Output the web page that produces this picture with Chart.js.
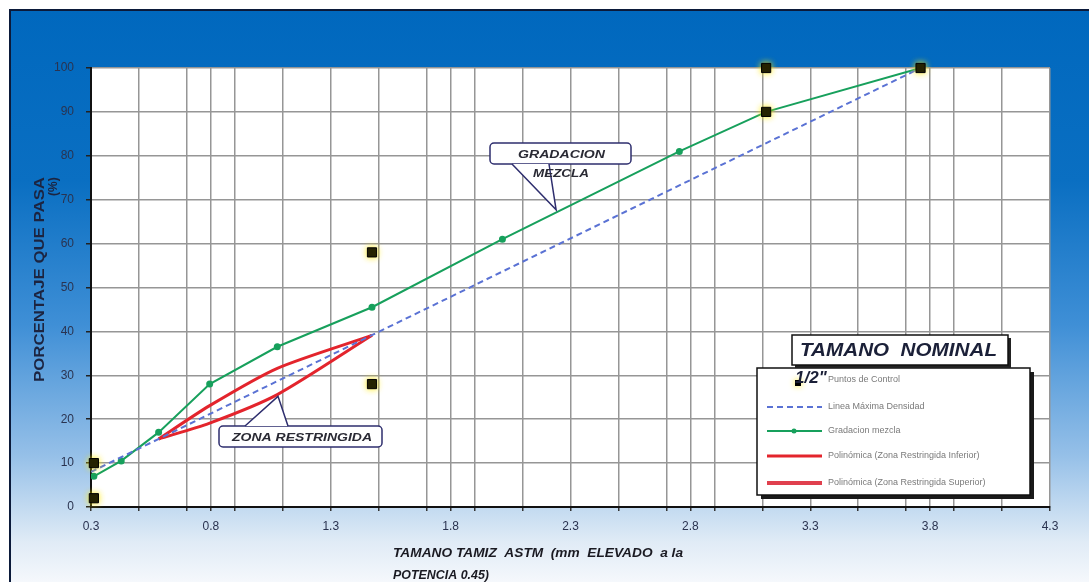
<!DOCTYPE html>
<html>
<head>
<meta charset="utf-8">
<script src="https://cdn.jsdelivr.net/npm/chart.js@4.4.1/dist/chart.umd.min.js"></script>
<style>
  html, body { margin: 0; padding: 0; background: #fff; overflow: hidden; }
  #wrap { position: relative; width: 1089px; height: 582px; }
</style>
</head>
<body>
<div id="wrap"><canvas id="c" width="1089" height="582"></canvas></div>
<script>
// Sieve openings raised to the 0.45 power (0.075, 0.15, 0.3, 0.6, 1.18, 2.36, 4.75, 9.5, 12.5, 19 mm)
const sieveX = [0.312, 0.426, 0.582, 0.795, 1.077, 1.472, 2.016, 2.754, 3.116, 3.76];
const gradacionMezcla = [7, 10.5, 17, 28, 36.5, 45.5, 61, 81, 90, 100];

// Control points (lower / upper limits)
const controlX = [0.312, 0.312, 1.472, 1.472, 3.116, 3.116, 3.76];
const controlY = [2, 10, 58, 28, 100, 90, 100];

// Maximum density line
const maxDensX = [0.3, 3.76];
const maxDensY = [8, 100];

// Restricted zone
const zonaX = [0.582, 0.795, 1.077, 1.472];
const zonaInferior = [15.5, 19.1, 25.6, 39.1];
const zonaSuperior = [15.5, 23.1, 31.6, 39.1];

// Axis ticks and gridlines
const xTickLabels = ['0.3', '0.8', '1.3', '1.8', '2.3', '2.8', '3.3', '3.8', '4.3'];
const xGridValues = [0.3, 0.5, 0.7, 0.8, 0.9, 1.1, 1.3, 1.5, 1.7, 1.8, 1.9, 2.1, 2.3, 2.5, 2.7, 2.8, 2.9, 3.1, 3.3, 3.5, 3.7, 3.8, 3.9, 4.1, 4.3];
const yTickValues = [0, 10, 20, 30, 40, 50, 60, 70, 80, 90, 100];

const legendLabels = [
  'Puntos de Control',
  'Linea Máxima Densidad',
  'Gradacion mezcla',
  'Polinómica (Zona Restringida Inferior)',
  'Polinómica (Zona Restringida Superior)'
];

const GREEN = '#17a05c';
const RED = '#e3242c';
const BLUE = '#5a72d4';
const FONT = '"Liberation Sans", Arial, sans-serif';

const pts = (xs, ys) => xs.map((x, i) => ({ x: x, y: ys[i] }));

// Draw text squeezed/stretched horizontally to a given width
function fitText(ctx, text, x, y, width) {
  const w = ctx.measureText(text).width;
  ctx.save();
  ctx.translate(x, y);
  ctx.scale(width / w, 1);
  ctx.fillText(text, 0, 0);
  ctx.restore();
}

function drawControlMarker(ctx, x, y, s) {
  ctx.save();
  ctx.shadowColor = 'rgba(255,235,0,0.95)';
  ctx.shadowBlur = 6;
  ctx.fillStyle = '#000';
  ctx.fillRect(x - s / 2, y - s / 2, s, s);
  ctx.restore();
}

const decor = {
  id: 'decor',
  beforeDraw(chart) {
    const { ctx, chartArea: a, width, height } = chart;
    ctx.save();
    ctx.fillStyle = '#fff';
    ctx.fillRect(0, 0, width, height);
    const g = ctx.createLinearGradient(0, 10, 0, height);
    g.addColorStop(0, '#0068be');
    g.addColorStop(0.3, '#0a6fc2');
    g.addColorStop(0.55, '#3f8fd6');
    g.addColorStop(0.78, '#96c0e8');
    g.addColorStop(0.93, '#e0ebf6');
    g.addColorStop(1, '#f5f8fc');
    ctx.fillStyle = g;
    ctx.fillRect(10, 10, width - 10, height - 10);
    ctx.strokeStyle = '#0b1a3a';
    ctx.lineWidth = 2;
    ctx.beginPath();
    ctx.moveTo(10, height);
    ctx.lineTo(10, 10);
    ctx.lineTo(width, 10);
    ctx.stroke();
    ctx.fillStyle = '#fff';
    ctx.fillRect(a.left, a.top, a.right - a.left, a.bottom - a.top);
    ctx.restore();
  },
  beforeDatasetDraw(chart, args) {
    if (args.index === 0) {
      chart.ctx.save();
      chart.ctx.shadowColor = 'rgba(255,235,0,0.9)';
      chart.ctx.shadowBlur = 6;
    }
  },
  afterDatasetDraw(chart, args) {
    if (args.index === 0) chart.ctx.restore();
  },
  afterDraw(chart) {
    const ctx = chart.ctx;
    const xs = chart.scales.x, ys = chart.scales.y;
    ctx.save();

    // Axis titles
    ctx.fillStyle = '#1c2440';
    ctx.textBaseline = 'middle';
    ctx.textAlign = 'left';
    ctx.font = 'bold 14px ' + FONT;
    ctx.save();
    ctx.translate(40, 382);
    ctx.rotate(-Math.PI / 2);
    fitText(ctx, 'PORCENTAJE QUE PASA', 0, 0, 205);
    ctx.restore();
    ctx.save();
    ctx.translate(54, 196);
    ctx.rotate(-Math.PI / 2);
    ctx.font = 'bold 12px ' + FONT;
    ctx.fillText('(%)', 0, 0);
    ctx.restore();

    ctx.fillStyle = '#1a1a22';
    ctx.font = 'italic bold 13px ' + FONT;
    fitText(ctx, 'TAMANO TAMIZ  ASTM  (mm  ELEVADO  a la', 393, 553, 290);
    fitText(ctx, 'POTENCIA 0.45)', 393, 575, 96);

    // Callout: GRADACION MEZCLA
    const tip1x = xs.getPixelForValue(2.24), tip1y = ys.getPixelForValue(67.7);
    ctx.fillStyle = '#fff';
    ctx.strokeStyle = '#2e2e6e';
    ctx.lineWidth = 1.5;
    ctx.beginPath();
    ctx.roundRect(490, 143, 141, 21, 4);
    ctx.fill();
    ctx.stroke();
    ctx.beginPath();
    ctx.moveTo(512, 164);
    ctx.lineTo(tip1x, tip1y);
    ctx.lineTo(549, 164);
    ctx.closePath();
    ctx.fill();
    ctx.beginPath();
    ctx.moveTo(512, 164);
    ctx.lineTo(tip1x, tip1y);
    ctx.lineTo(549, 164);
    ctx.stroke();
    ctx.fillStyle = '#2a2a34';
    ctx.textAlign = 'left';
    ctx.font = 'italic bold 10px ' + FONT;
    fitText(ctx, 'GRADACION', 518, 155, 87);
    fitText(ctx, 'MEZCLA', 533, 174, 56);

    // Callout: ZONA RESTRINGIDA
    const tip2x = xs.getPixelForValue(1.08), tip2y = ys.getPixelForValue(25.2);
    ctx.fillStyle = '#fff';
    ctx.strokeStyle = '#2e2e6e';
    ctx.beginPath();
    ctx.roundRect(219, 426, 163, 21, 4);
    ctx.fill();
    ctx.stroke();
    ctx.beginPath();
    ctx.moveTo(245, 426);
    ctx.lineTo(tip2x, tip2y);
    ctx.lineTo(288, 426);
    ctx.closePath();
    ctx.fill();
    ctx.beginPath();
    ctx.moveTo(245, 426);
    ctx.lineTo(tip2x, tip2y);
    ctx.lineTo(288, 426);
    ctx.stroke();
    ctx.fillStyle = '#2a2a34';
    ctx.font = 'italic bold 11px ' + FONT;
    fitText(ctx, 'ZONA RESTRINGIDA', 232, 438, 140);

    // Legend box
    ctx.fillStyle = '#1a1a1a';
    ctx.fillRect(761, 372, 273, 127);
    ctx.fillStyle = '#fff';
    ctx.fillRect(757, 368, 273, 127);
    ctx.strokeStyle = '#111';
    ctx.lineWidth = 1.5;
    ctx.strokeRect(757, 368, 273, 127);

    const rowY = [380, 407, 431, 456, 483];
    ctx.font = '9px ' + FONT;
    ctx.fillStyle = '#7a7a7a';
    ctx.textAlign = 'left';
    legendLabels.forEach((t, i) => ctx.fillText(t, 828, rowY[i]));

    ctx.lineCap = 'butt';
    ctx.strokeStyle = BLUE;
    ctx.lineWidth = 2;
    ctx.setLineDash([6, 4]);
    ctx.beginPath(); ctx.moveTo(767, rowY[1]); ctx.lineTo(822, rowY[1]); ctx.stroke();
    ctx.setLineDash([]);
    ctx.strokeStyle = GREEN;
    ctx.beginPath(); ctx.moveTo(767, rowY[2]); ctx.lineTo(822, rowY[2]); ctx.stroke();
    ctx.fillStyle = GREEN;
    ctx.beginPath(); ctx.arc(794, rowY[2], 2.5, 0, Math.PI * 2); ctx.fill();
    ctx.strokeStyle = RED;
    ctx.lineWidth = 3;
    ctx.beginPath(); ctx.moveTo(767, rowY[3]); ctx.lineTo(822, rowY[3]); ctx.stroke();
    ctx.strokeStyle = '#e0404e';
    ctx.lineWidth = 4;
    ctx.beginPath(); ctx.moveTo(767, rowY[4]); ctx.lineTo(822, rowY[4]); ctx.stroke();
    drawControlMarker(ctx, 798, 383, 6);

    // Nominal size box
    ctx.fillStyle = '#222';
    ctx.fillRect(795, 338, 216, 30);
    ctx.fillStyle = '#fff';
    ctx.fillRect(792, 335, 216, 30);
    ctx.strokeStyle = '#111';
    ctx.lineWidth = 1.5;
    ctx.strokeRect(792, 335, 216, 30);
    ctx.fillStyle = '#1b2038';
    ctx.font = 'italic bold 19px ' + FONT;
    fitText(ctx, 'TAMANO  NOMINAL', 800, 351, 197);
    ctx.font = 'italic bold 17px ' + FONT;
    ctx.fillStyle = '#1b2038';
    ctx.fillText('1/2"', 795, 378);

    ctx.restore();
  }
};

new Chart(document.getElementById('c'), {
  type: 'scatter',
  data: {
    datasets: [
      {
        label: legendLabels[0],
        data: pts(controlX, controlY),
        showLine: false,
        pointStyle: 'rect',
        pointRadius: 6.5,
        pointBackgroundColor: '#000',
        pointBorderColor: '#000',
        pointBorderWidth: 1,
        clip: false
      },
      {
        label: legendLabels[1],
        data: pts(maxDensX, maxDensY),
        showLine: true,
        borderColor: BLUE,
        borderWidth: 2,
        borderDash: [6, 4],
        pointRadius: 0
      },
      {
        label: legendLabels[2],
        data: pts(sieveX, gradacionMezcla),
        showLine: true,
        borderColor: GREEN,
        borderWidth: 2,
        pointRadius: 2.5,
        pointBackgroundColor: GREEN,
        pointBorderColor: GREEN
      },
      {
        label: legendLabels[3],
        data: pts(zonaX, zonaInferior),
        showLine: true,
        borderColor: RED,
        borderWidth: 3,
        pointRadius: 0,
        tension: 0.25
      },
      {
        label: legendLabels[4],
        data: pts(zonaX, zonaSuperior),
        showLine: true,
        borderColor: RED,
        borderWidth: 3,
        pointRadius: 0,
        tension: 0.25
      }
    ]
  },
  options: {
    responsive: false,
    animation: false,
    events: [],
    layout: { padding: { left: 0, top: 68, right: 39, bottom: 35 } },
    plugins: {
      legend: { display: false },
      tooltip: { enabled: false }
    },
    scales: {
      x: {
        type: 'linear',
        min: 0.3,
        max: 4.3,
        afterBuildTicks: (s) => { s.ticks = xGridValues.map(v => ({ value: v })); },
        afterFit: (s) => { s.height = 40; },
        ticks: {
          autoSkip: false,
          maxRotation: 0,
          padding: 8,
          color: '#2a3350',
          font: { family: FONT, size: 12 },
          callback: (v) => {
            const lab = xTickLabels.find(l => Math.abs(parseFloat(l) - v) < 1e-6);
            return lab === undefined ? '' : lab;
          }
        },
        grid: { color: '#969696', lineWidth: 1.5, tickLength: 4, tickColor: '#333' },
        border: { color: '#111', width: 2 }
      },
      y: {
        min: 0,
        max: 100,
        afterBuildTicks: (s) => { s.ticks = yTickValues.map(v => ({ value: v })); },
        afterFit: (s) => { s.width = 91; },
        ticks: {
          padding: 12,
          color: '#2a3350',
          font: { family: FONT, size: 12 }
        },
        grid: { color: '#969696', lineWidth: 1.5, tickLength: 5, tickColor: '#222' },
        border: { color: '#111', width: 2 }
      }
    }
  },
  plugins: [decor]
});
</script>
</body>
</html>
